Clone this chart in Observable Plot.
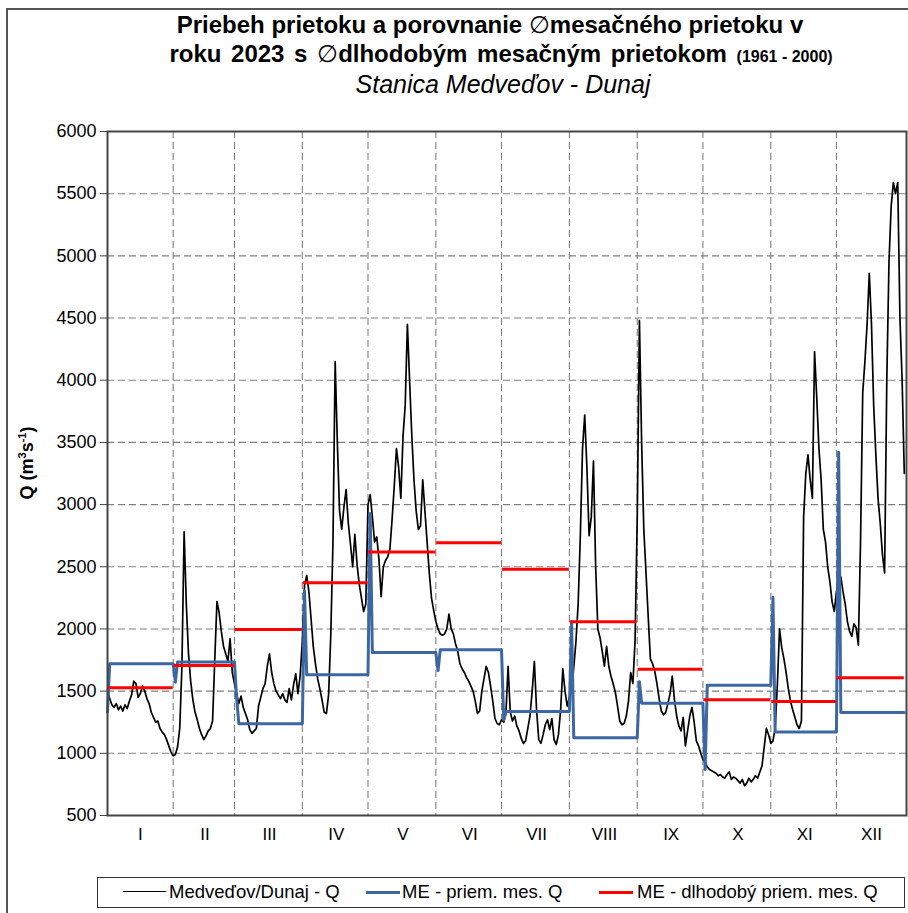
<!DOCTYPE html>
<html>
<head>
<meta charset="utf-8">
<script src="https://cdn.jsdelivr.net/npm/d3@7"></script>
<script src="https://cdn.jsdelivr.net/npm/@observablehq/plot@0.6"></script>
<style>
  body { margin: 0; background: #fff; }
  #wrap { position: relative; width: 908px; height: 913px; overflow: hidden; background: #fff;
          font-family: "Liberation Sans", Arial, sans-serif; color: #000; }
  #outer { position: absolute; left: 6px; top: 8px; width: 1000px; height: 1000px;
           border-left: 2px solid #555; border-top: 2px solid #555; }
  .tline { position: absolute; white-space: nowrap; transform: translateX(-50%); line-height: 24px; }
  .sym { font-weight: normal; }
  #t1 { left: 490px; top: 13px; font-size: 24px; font-weight: bold; }
  #t2 { left: 501px; top: 42px; font-size: 24px; font-weight: bold; word-spacing: 3px; }
  #t2 small { font-size: 16px; word-spacing: 0; }
  #t3 { left: 503px; top: 72px; font-size: 25px; font-style: italic; }
  #ylab { position: absolute; left: 27px; top: 463px; transform: translate(-50%, -50%) rotate(-90deg);
          font-size: 18px; font-weight: bold; white-space: nowrap; }
  #ylab sup { font-size: 11px; }
  #chart { position: absolute; left: 0; top: 110px; }
  #legend { position: absolute; left: 97px; top: 877px; width: 808px; height: 31px;
            border: 1.5px solid #333; box-sizing: border-box; background: #fff; }
  .sw { position: absolute; top: 14px; height: 0; }
  .lt { position: absolute; top: 4px; font-size: 18.5px; line-height: 20px; white-space: nowrap; }
</style>
</head>
<body>
<div id="wrap">
  <div id="outer"></div>
  <div class="tline" id="t1">Priebeh prietoku a porovnanie <span class="sym">∅</span>mesačného prietoku v</div>
  <div class="tline" id="t2">roku 2023 s <span class="sym">∅</span>dlhodobým mesačným prietokom <small>(1961 - 2000)</small></div>
  <div class="tline" id="t3">Stanica Medveďov - Dunaj</div>
  <div id="ylab">Q (m<sup>3</sup>s<sup>-1</sup>)</div>
  <div id="chart"></div>
  <div id="legend"></div>
</div>
<script>
// ---- data ----
const monthLabels = ["I","II","III","IV","V","VI","VII","VIII","IX","X","XI","XII"];
const monthDays = [31,28,31,30,31,30,31,31,30,31,30,31];
const yTicks = [500,1000,1500,2000,2500,3000,3500,4000,4500,5000,5500,6000];

// daily discharge Q 2023 (m3/s), Medveďov - Dunaj
const qI   = [1510,1440,1390,1370,1400,1350,1380,1340,1390,1360,1420,1470,1580,1560,1450,1480,1540,1500,1440,1400,1330,1290,1250,1260,1200,1170,1150,1110,1060,1010,980];
const qII  = [990,1050,1200,1700,2780,2200,1800,1580,1430,1330,1270,1200,1150,1110,1140,1180,1200,1260,1750,2220,2130,1980,1860,1800,1740,1920,1650,1560];
const qIII = [1480,1400,1460,1370,1320,1270,1190,1160,1180,1200,1380,1450,1520,1560,1700,1800,1650,1560,1500,1470,1440,1480,1430,1410,1520,1430,1550,1640,1480,1620,1900];
const qIV  = [2350,2430,2300,2080,1860,1720,1600,1520,1430,1330,1320,1470,1950,2700,4150,3500,2950,2800,2980,3120,2850,2680,2500,2760,2520,2360,2250,2140,2200,3000];
const qV   = [3080,2900,2700,2740,2560,2260,2500,2550,2580,2640,2880,3150,3450,3300,3050,3550,3800,4450,4000,3560,3200,2950,2800,2830,3200,2950,2700,2450,2250,2150,2060];
const qVI  = [2000,1960,1950,1960,2000,2120,2000,1960,1880,1820,1720,1680,1650,1610,1580,1540,1500,1420,1320,1340,1500,1600,1700,1650,1540,1420,1280,1240,1230,1270];
const qVII = [1250,1320,1700,1330,1260,1300,1220,1180,1120,1080,1100,1200,1300,1500,1740,1350,1110,1080,1150,1230,1270,1190,1280,1110,1070,1150,1350,1680,1500,1380,1450];
const qVIII= [1500,1690,1900,2200,2750,3450,3720,3300,2750,2900,3350,2500,2000,1930,1820,1700,1860,1700,1620,1560,1490,1380,1260,1230,1240,1300,1420,1650,1560,1900,2900];
const qIX  = [4480,3500,2800,2450,2100,1760,1720,1660,1560,1440,1340,1310,1330,1400,1480,1620,1430,1300,1220,1180,1290,1060,1180,1300,1370,1250,1100,1060,1000,950];
const qX   = [930,890,870,860,850,840,820,830,810,800,830,850,790,810,800,780,760,790,740,760,800,770,790,820,800,850,900,1050,1200,1150,1080];
const qXI  = [1100,1200,1550,2000,1850,1760,1650,1520,1420,1350,1290,1230,1200,1260,2900,3250,3400,3200,3050,4230,3860,3450,3200,2800,2700,2500,2380,2220,2140,2300];
const qXII = [2380,2420,2300,2200,2060,1980,1940,2040,2010,1870,2700,3900,4150,4450,4860,4450,3800,3400,3050,2850,2600,2450,4000,4950,5400,5590,5500,5590,4500,4000,3250];

// ME - monthly mean 2023 and the value drawn on the first day of each month
const meanMonthly2023 = [1720,1735,1238,1631,1810,1832,1336,1125,1403,1548,1172,1328];
const firstDayME      = [1330,1572,1440,2307,2928,1666,1268,2055,1575,870,2255,3420];
// ME - long-term monthly mean 1961-2000
const longTermMonthly = [1527,1706,1995,2372,2618,2693,2481,2058,1675,1430,1417,1608];

// ---- derived tables ----
const starts = [], ends = [];
monthDays.reduce((acc, d) => { starts.push(acc + 1); ends.push(acc + d); return acc + d; }, 0);
const centers = starts.map((s, i) => (s + ends[i]) / 2);

const qMonths = [qI,qII,qIII,qIV,qV,qVI,qVII,qVIII,qIX,qX,qXI,qXII];
const qData = [];
qMonths.forEach((arr, m) => arr.forEach((v, i) => qData.push({t: starts[m] + i, q: v})));

const meData = [];
monthDays.forEach((d, m) => {
  for (let i = 0; i < d; i++) meData.push({t: starts[m] + i, q: i === 0 ? firstDayME[m] : meanMonthly2023[m]});
});

const ltData = longTermMonthly.map((v, i) => ({x1: i === 0 ? 1 : starts[i] - 0.6, x2: ends[i], q: v}));

const grid = {stroke: "#808080", strokeWidth: 1.1, strokeDasharray: "7,4"};

const chart = Plot.plot({
  width: 908,
  height: 750,
  marginLeft: 107,
  marginRight: 2,
  marginTop: 21,
  marginBottom: 45,
  style: {fontFamily: "'Liberation Sans', Arial, sans-serif", fontSize: "18px", color: "#000", background: "transparent"},
  x: {domain: [1, 366], axis: null},
  y: {domain: [500, 6000], axis: null},
  marks: [
    Plot.ruleY(yTicks.slice(1, -1), grid),
    Plot.ruleX(ends.slice(0, -1), grid),
    Plot.line(qData, {x: "t", y: "q", stroke: "#000", strokeWidth: 1.7, strokeLinejoin: "round"}),
    Plot.line(meData, {x: "t", y: "q", stroke: "#3d67a2", strokeWidth: 3}),
    Plot.ruleY(ltData, {x1: "x1", x2: "x2", y: "q", stroke: "#ff0000", strokeWidth: 3}),
    Plot.frame({stroke: "#444", strokeWidth: 2}),
    Plot.axisY({ticks: yTicks, tickSize: 7, tickPadding: 4, fontSize: 18, stroke: "#444",
                tickFormat: d => String(d), label: null}),
    Plot.axisX({ticks: centers, tickSize: 0, tickPadding: 12, fontSize: 17,
                tickFormat: d => monthLabels[centers.indexOf(d)], label: null})
  ]
});
document.getElementById("chart").appendChild(chart);

// ---- legend ----
const legendItems = [
  {label: "Medveďov/Dunaj - Q", color: "#000", w: 1.5, sx: 25, sw: 43, tx: 71},
  {label: "ME - priem. mes. Q", color: "#3d67a2", w: 3, sx: 268, sw: 34, tx: 304},
  {label: "ME - dlhodobý priem. mes. Q", color: "#ff0000", w: 3, sx: 501, sw: 34, tx: 539}
];
const lg = document.getElementById("legend");
legendItems.forEach(it => {
  const s = document.createElement("div");
  s.className = "sw";
  s.style.left = it.sx + "px";
  s.style.width = it.sw + "px";
  s.style.borderTop = it.w + "px solid " + it.color;
  s.style.marginTop = (-it.w / 2) + "px";
  lg.appendChild(s);
  const t = document.createElement("div");
  t.className = "lt";
  t.style.left = it.tx + "px";
  t.textContent = it.label;
  lg.appendChild(t);
});
</script>
</body>
</html>
